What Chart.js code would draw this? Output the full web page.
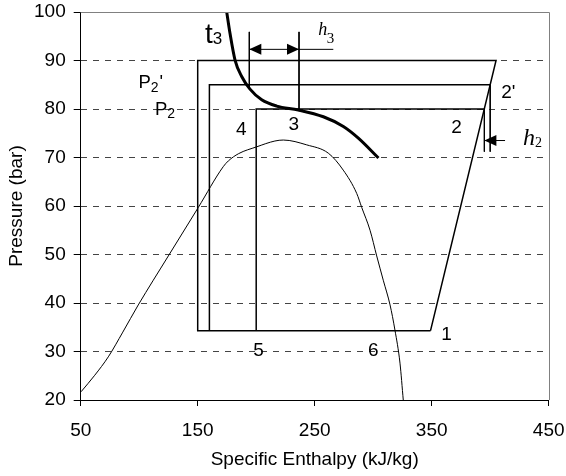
<!DOCTYPE html>
<html>
<head>
<meta charset="utf-8">
<script src="https://cdn.jsdelivr.net/npm/chart.js@4.4.1/dist/chart.umd.min.js"></script>
<style>
  html, body { margin: 0; padding: 0; background: #ffffff; }
  #wrap { width: 566px; height: 476px; }
</style>
</head>
<body>
<div id="wrap"><canvas id="c" width="566" height="476"></canvas></div>
<script>
// ---- axis ticks ----
const xTickValues = [50, 150, 250, 350, 450];
const yTickValues = [20, 30, 40, 50, 60, 70, 80, 90, 100];

// ---- saturation dome (enthalpy kJ/kg, pressure bar) ----
const domeH = [50.3, 62, 73.6, 86, 99.2, 124.9, 150.5, 171.8, 176.2, 185, 200.4, 216, 223.2, 243.2, 261.6, 274.4, 285.9, 290.2, 297.3, 303, 308.6, 314.4, 318.6, 322.9, 325.7];
const domeP = [21.7, 25.1, 28.9, 34.0, 39.6, 49.7, 59.7, 68.1, 69.3, 70.8, 72.2, 73.4, 73.6, 72.6, 70.9, 67.4, 62.6, 59.7, 55.0, 49.7, 44.7, 39.6, 34.4, 27.6, 20.0];

// ---- t3 isotherm ----
const t3H = [174.8, 177.6, 181.9, 187.6, 194.7, 204.7, 217.5, 236.0, 257.4, 274.5, 287.3, 304.5];
const t3P = [100.0, 95.6, 90.1, 86.7, 84.1, 81.9, 80.6, 79.8, 78.4, 76.4, 74.0, 69.9];

// ---- cycles ----
const outerH = [349, 150, 150, 405, 349];
const outerP = [34.3, 34.3, 90, 90, 34.3];
const midH = [160, 160, 400];
const midP = [34.3, 85, 85];
const innerH = [200, 200, 395];
const innerP = [34.3, 80, 80];

// ---- h3 / h2 construction lines ----
const h3LeftH = [194.1, 194.1];   const h3LeftP = [95.9, 84.5];
const h3RightH = [236.6, 236.6];  const h3RightP = [95.9, 79.8];
const h3ShaftH = [194.1, 265.9];  const h3ShaftP = [92.3, 92.3];
const h2LeftH = [395, 395];       const h2LeftP = [80, 71.2];
const h2RightH = [400, 400];      const h2RightP = [85, 71.2];
const h2ShaftH = [395, 412.7];    const h2ShaftP = [73.5, 73.5];

// ---- arrowheads (tip positions) ----
const arrowTipH = [194.1, 236.6, 395];
const arrowTipP = [92.3, 92.3, 73.5];
const arrowDir = ['left', 'right', 'left'];

// ---- point labels (centre positions) ----
const ptLabels = ['1', '2', "2'", '3', '4', '5', '6'];
const ptLabelH = [362.6, 371.2, 415.5, 232.1, 187.3, 202.1, 300.1];
const ptLabelP = [33.4, 76.2, 83.4, 76.8, 75.7, 30.2, 30.2];

// ---- symbol labels (main + subscript [+ suffix]), baseline-left positions ----
const symMain = ['t', 'P', 'P', 'h', 'h'];
const symSub = ['3', '2', '2', '3', '2'];
const symSuffix = ['', "'", '', '', ''];
const symH = [156.2, 99.3, 113.5, 253.1, 428.0];
const symP = [93.6, 84.27, 78.76, 95.26, 72.58];

const SANS = "'Liberation Sans', Arial, Helvetica, sans-serif";
const SERIF = "'Liberation Serif', 'Times New Roman', serif";
const symStyle = [
  { main: "28px " + SANS, sub: "17px " + SANS, dy: 1, dx: 0 },
  { main: "18.5px " + SANS, sub: "14px " + SANS, dy: 3.4, dx: 0 },
  { main: "18.5px " + SANS, sub: "14px " + SANS, dy: 3.3, dx: 0 },
  { main: "italic 18px " + SERIF, sub: "15px " + SERIF, dy: 8.3, dx: -0.5 },
  { main: "italic 24px " + SERIF, sub: "14px " + SERIF, dy: 2, dx: 0 }
];

const pts = (H, P) => H.map((h, i) => ({ x: h, y: P[i] }));
const line = (H, P, w, extra) => Object.assign({
  data: pts(H, P), showLine: true, borderColor: '#000', backgroundColor: '#000',
  borderWidth: w, pointRadius: 0, pointHoverRadius: 0, fill: false, tension: 0
}, extra || {});

const annot = {
  id: 'annot',
  afterDatasetsDraw(chart) {
    const { ctx, chartArea: a } = chart;
    const xs = chart.scales.x, ys = chart.scales.y;
    ctx.save();
    // top & right frame
    ctx.strokeStyle = '#808080';
    ctx.lineWidth = 1;
    ctx.beginPath();
    const tY = Math.round(a.top) + 0.5, rX = Math.round(a.right) + 0.5;
    ctx.moveTo(a.left, tY); ctx.lineTo(rX, tY); ctx.lineTo(rX, a.bottom);
    ctx.stroke();

    // arrowheads
    ctx.fillStyle = '#000';
    arrowTipH.forEach((h, i) => {
      const px = xs.getPixelForValue(h), py = ys.getPixelForValue(arrowTipP[i]);
      const s = arrowDir[i] === 'left' ? 1 : -1;
      const len = 12, half = 5.5;
      ctx.beginPath();
      ctx.moveTo(px, py);
      ctx.lineTo(px + s * len, py - half);
      ctx.lineTo(px + s * len, py + half);
      ctx.closePath();
      ctx.fill();
    });

    // point labels
    ctx.font = "19px " + SANS;
    ctx.textAlign = 'center';
    ctx.textBaseline = 'middle';
    ptLabels.forEach((t, i) => {
      ctx.fillText(t, xs.getPixelForValue(ptLabelH[i]), ys.getPixelForValue(ptLabelP[i]));
    });

    // symbols with subscripts
    ctx.textAlign = 'left';
    ctx.textBaseline = 'alphabetic';
    symMain.forEach((m, i) => {
      const st = symStyle[i];
      const px = xs.getPixelForValue(symH[i]), py = ys.getPixelForValue(symP[i]);
      ctx.font = st.main;
      ctx.fillText(m, px, py);
      const w = ctx.measureText(m).width;
      ctx.font = st.sub;
      ctx.fillText(symSub[i], px + w + st.dx, py + st.dy);
      const ws = ctx.measureText(symSub[i]).width;
      if (symSuffix[i]) {
        ctx.font = st.main;
        ctx.fillText(symSuffix[i], px + w + st.dx + ws + 1, py);
      }
    });
    ctx.restore();
  }
};

new Chart(document.getElementById('c'), {
  type: 'scatter',
  data: {
    datasets: [
      line(domeH, domeP, 1, { cubicInterpolationMode: 'monotone' }),
      line(outerH, outerP, 1.5),
      line(midH, midP, 1.5),
      line(innerH, innerP, 1.5),
      line(h3LeftH, h3LeftP, 1),
      line(h3RightH, h3RightP, 1),
      line(h3ShaftH, h3ShaftP, 1),
      line(h2LeftH, h2LeftP, 1),
      line(h2RightH, h2RightP, 1),
      line(h2ShaftH, h2ShaftP, 1),
      line(t3H, t3P, 3, { cubicInterpolationMode: 'monotone' })
    ]
  },
  options: {
    responsive: false,
    animation: false,
    events: [],
    layout: { padding: { left: 0, top: 12, right: 17.3, bottom: 0 } },
    plugins: { legend: { display: false }, tooltip: { enabled: false } },
    scales: {
      x: {
        type: 'linear', min: 50, max: 450,
        afterFit: s => { s.height = 76; s.paddingLeft = 0; s.paddingRight = 0; },
        afterBuildTicks: s => { s.ticks = xTickValues.map(v => ({ value: v })); },
        ticks: { color: '#000', font: { family: SANS, size: 19 }, padding: 13, maxRotation: 0, autoSkip: false },
        grid: { drawOnChartArea: false, drawTicks: true, tickLength: 6, tickColor: '#000' },
        border: { display: true, color: '#000', width: 1 },
        title: { display: true, text: 'Specific Enthalpy (kJ/kg)', color: '#000', font: { family: SANS, size: 19 }, padding: { top: 0, bottom: 5 } }
      },
      y: {
        type: 'linear', min: 20, max: 100,
        afterFit: s => { s.width = 80.7; s.paddingTop = 0; s.paddingBottom = 0; },
        afterBuildTicks: s => { s.ticks = yTickValues.map(v => ({ value: v })); },
        ticks: { color: '#000', font: { family: SANS, size: 19 }, padding: 8 },
        grid: {
          color: c => (c.tick && (c.tick.value === 20 || c.tick.value === 100)) ? 'rgba(0,0,0,0)' : '#444',
          lineWidth: 1, tickLength: 7, tickColor: '#000'
        },
        border: { display: true, color: '#000', width: 1, dash: [6, 6] },
        title: { display: true, text: 'Pressure (bar)', color: '#000', font: { family: SANS, size: 19 }, padding: { top: 5, bottom: 0 } }
      }
    }
  },
  plugins: [annot]
});
</script>
</body>
</html>
